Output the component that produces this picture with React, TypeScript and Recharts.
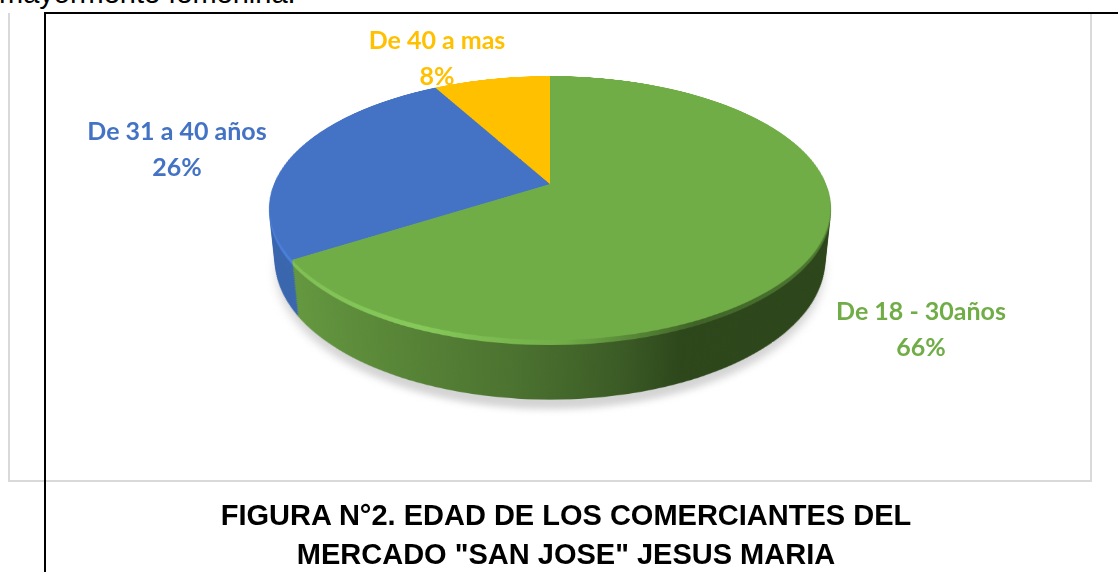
import React from "react";
import { PieChart, Pie, Cell } from "recharts";

const categories = ["De 18 - 30años", "De 31 a 40 años", "De 40 a mas"];
const values = [66, 26, 8];
const percents = ["66%", "26%", "8%"];
const topColors = ["#70AD47", "#4472C4", "#FFC000"];
const rimColors = ["url(#rim)", "#4A80DB", "#FFC000"];
const wallColors = ["url(#wall)", "#3A66AE", "#B88A00"];
const titleLines = ['FIGURA N°2. EDAD DE LOS COMERCIANTES DEL', 'MERCADO "SAN JOSE" JESUS MARIA'];

const data = categories.map((name, i) => ({ name, value: values[i] }));

const BOX = 620;
const RADIUS = 276;
const APEX = { x: 550, y: 184 };
const TILT = 62.45;
const PERSPECTIVE = 1346;
const WALL_DEPTH = 60;
const wallSteps = Array.from({ length: 28 }, (_, i) => WALL_DEPTH - i * 2);
const rimSteps = [5, 4, 3, 2, 1];

// One slab of the pie: a flat chart tilted back and pushed down by depth.
function Slab({ depth, fills, blur }: { depth: number; fills: string[]; blur?: number }) {
  return (
    <div style={{
      position: "absolute", left: APEX.x - BOX / 2, top: APEX.y - BOX / 2, width: BOX, height: BOX,
      transform: `perspective(${PERSPECTIVE}px) rotateX(${TILT}deg) translateZ(${-depth}px)`,
      filter: blur ? `blur(${blur}px)` : undefined,
    }}>
      <PieChart width={BOX} height={BOX} margin={{ top: 0, right: 0, bottom: 0, left: 0 }}>
        <defs>
          <linearGradient id="wall" gradientUnits="userSpaceOnUse" x1={34} y1={0} x2={586} y2={0}>
            <stop offset="0" stopColor="#6A9F43" />
            <stop offset="0.22" stopColor="#5B8A39" />
            <stop offset="0.44" stopColor="#4C7330" />
            <stop offset="0.6" stopColor="#3C5C26" />
            <stop offset="0.7" stopColor="#2D471B" />
            <stop offset="1" stopColor="#2C451A" />
          </linearGradient>
          <linearGradient id="rim" gradientUnits="userSpaceOnUse" x1={34} y1={0} x2={586} y2={0}>
            <stop offset="0" stopColor="#7DBB52" />
            <stop offset="0.3" stopColor="#86C95A" />
            <stop offset="0.52" stopColor="#70AD47" />
            <stop offset="0.72" stopColor="#3F6327" />
            <stop offset="1" stopColor="#4F7D32" />
          </linearGradient>
        </defs>
        <Pie
          data={data} dataKey="value" nameKey="name"
          cx={BOX / 2} cy={BOX / 2} outerRadius={RADIUS}
          startAngle={90} endAngle={-270}
          stroke="none" isAnimationActive={false} label={false} labelLine={false}
        >
          {data.map((d, i) => <Cell key={d.name} fill={fills[i]} />)}
        </Pie>
      </PieChart>
    </div>
  );
}

function SliceLabel({ x, y, color, lines }: { x: number; y: number; color: string; lines: string[] }) {
  return (
    <div style={{
      position: "absolute", left: x - 150, top: y, width: 300, textAlign: "center",
      fontFamily: "Lato", fontWeight: 700, fontSize: 25, lineHeight: "36px", color,
    }}>
      {lines.map((l) => <div key={l}>{l}</div>)}
    </div>
  );
}

export default function App() {
  return (
    <div style={{
      position: "fixed", left: 0, top: 0, width: 1118, height: 572, overflow: "hidden", background: "#fff",
    }}>
      <div style={{
        position: "absolute", left: -1, top: -24, whiteSpace: "nowrap",
        fontFamily: "'Liberation Sans'", fontSize: 29, lineHeight: "34px", color: "#000",
      }}>mayormente femenina.</div>

      {/* chart frame */}
      <div style={{
        position: "absolute", left: 8, top: 13, width: 1084, height: 469,
        border: "2px solid #d9d9d9", boxSizing: "border-box", borderTop: "none",
      }} />

      <Slab depth={WALL_DEPTH + 10} fills={["#d4d4d4", "#d4d4d4", "#d4d4d4"]} blur={5} />
      {wallSteps.map((h) => <Slab key={h} depth={h} fills={wallColors} />)}
      {rimSteps.map((h) => <Slab key={`rim-${h}`} depth={h} fills={rimColors} />)}
      <Slab depth={0} fills={topColors} />

      <SliceLabel x={437} y={21} color={topColors[2]} lines={[categories[2], percents[2]]} />
      <SliceLabel x={177} y={112} color={topColors[1]} lines={[categories[1], percents[1]]} />
      <SliceLabel x={921} y={292} color={topColors[0]} lines={[categories[0], percents[0]]} />

      {/* page borders that cross the figure */}
      <div style={{ position: "absolute", left: 44, top: 12, width: 1074, height: 2, background: "#000" }} />
      <div style={{ position: "absolute", left: 44, top: 12, width: 2, height: 560, background: "#000" }} />

      <div style={{
        position: "absolute", left: 0, top: 496, width: 1132, textAlign: "center",
        fontFamily: "'Liberation Sans'", fontWeight: 700, fontSize: 29, lineHeight: "39px", color: "#000",
      }}>
        {titleLines.map((l) => <div key={l}>{l}</div>)}
      </div>
    </div>
  );
}
